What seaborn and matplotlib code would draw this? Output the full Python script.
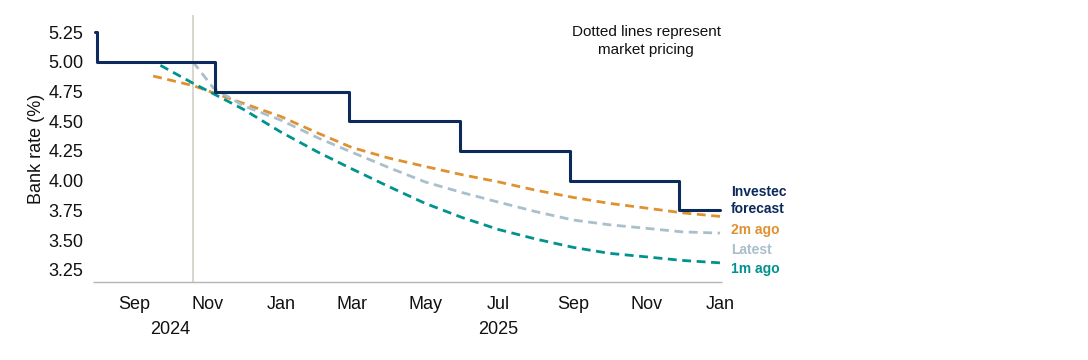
import pandas as pd
import numpy as np
import matplotlib
matplotlib.use("Agg")
import matplotlib.pyplot as plt
import matplotlib.dates as mdates
import matplotlib.transforms as mtransforms
import seaborn as sns

# ---------------- data ----------------
forecast_dates = ["2024-07-31", "2024-08-01", "2024-11-07", "2025-02-27",
                  "2025-05-30", "2025-08-29", "2025-11-28", "2026-01-01"]
forecast_vals = [5.25, 5.00, 4.75, 4.50, 4.25, 4.00, 3.75, 3.75]

m2_dates = ["2024-09-17", "2024-10-20", "2024-12-01", "2025-01-01", "2025-02-01",
            "2025-03-01", "2025-04-01", "2025-05-01", "2025-06-01", "2025-07-01",
            "2025-08-01", "2025-09-01", "2025-10-01", "2025-11-01", "2025-12-01",
            "2026-01-01"]
m2_vals = [4.88, 4.80, 4.65, 4.54, 4.40, 4.28, 4.19, 4.12, 4.05, 3.99,
           3.92, 3.86, 3.81, 3.77, 3.73, 3.70]

latest_dates = ["2024-10-20", "2024-11-06", "2024-12-01", "2025-01-01", "2025-02-01",
                "2025-03-01", "2025-04-01", "2025-05-01", "2025-06-01", "2025-07-01",
                "2025-08-01", "2025-09-01", "2025-10-01", "2025-11-01", "2025-12-01",
                "2026-01-01"]
latest_vals = [5.00, 4.78, 4.63, 4.51, 4.36, 4.24, 4.11, 3.99, 3.90, 3.82,
               3.74, 3.67, 3.63, 3.60, 3.57, 3.56]

m1_dates = ["2024-09-23", "2024-10-20", "2024-11-12", "2024-12-01", "2025-01-01",
            "2025-02-01", "2025-03-01", "2025-04-01", "2025-05-01", "2025-06-01",
            "2025-07-01", "2025-08-01", "2025-09-01", "2025-10-01", "2025-11-01",
            "2025-12-01", "2026-01-01"]
m1_vals = [4.97, 4.82, 4.70, 4.60, 4.41, 4.24, 4.10, 3.95, 3.81, 3.69,
           3.59, 3.51, 3.44, 3.39, 3.36, 3.33, 3.31]

vline_date = "2024-10-20"
y_ticks = [3.25, 3.50, 3.75, 4.00, 4.25, 4.50, 4.75, 5.00, 5.25]
series_labels = ["Investec\nforecast", "2m ago", "Latest", "1m ago"]
year_labels = ["2024", "2025"]
year_label_dates = ["2024-10-01", "2025-07-01"]

# ---------------- style ----------------
NAVY = "#0c2a5b"
ORANGE = "#e0912f"
GREY = "#a9bfcc"
TEAL = "#00928e"
AXIS = "#b5b5b5"

sns.set_theme(style="white")
plt.rcParams["font.family"] = ["Liberation Sans", "DejaVu Sans"]

fig = plt.figure(figsize=(10.88, 3.6), dpi=100)
W, H = 1088, 360
ax = fig.add_axes([93 / W, 1 - 282 / H, (722.4 - 93) / W, (282 - 15) / H])

def frame(d, v):
    return pd.DataFrame({"date": pd.to_datetime(d), "value": v})

dash = (0, (3.2, 2.0))
sns.lineplot(data=frame(m2_dates, m2_vals), x="date", y="value", ax=ax,
             color=ORANGE, lw=2.0, linestyle=dash, estimator=None)
sns.lineplot(data=frame(latest_dates, latest_vals), x="date", y="value", ax=ax,
             color=GREY, lw=2.0, linestyle=dash, estimator=None)
sns.lineplot(data=frame(m1_dates, m1_vals), x="date", y="value", ax=ax,
             color=TEAL, lw=2.0, linestyle=dash, estimator=None)
sns.lineplot(data=frame(forecast_dates, forecast_vals), x="date", y="value", ax=ax,
             color=NAVY, lw=2.2, drawstyle="steps-post", estimator=None)

ax.axvline(pd.Timestamp(vline_date), color="#d6d4c9", lw=1.3, zorder=0)

x0, x1 = pd.Timestamp("2024-07-29"), pd.Timestamp("2026-01-03")
ax.set_xlim(x0, x1)
ax.set_ylim(3.149, 5.393)
ax.set_yticks(y_ticks)
ax.set_yticklabels([f"{t:.2f}" for t in y_ticks])

ax.xaxis.set_major_locator(mdates.MonthLocator(bymonth=[1, 3, 5, 7, 9, 11]))
ax.xaxis.set_major_formatter(mdates.DateFormatter("%b"))

for s in ["left", "right", "top", "bottom"]:
    ax.spines[s].set_visible(False)
# x-axis baseline spanning exactly the plot area
ax.plot([0, 1], [0, 0], transform=ax.transAxes, color=AXIS, lw=1.0,
        clip_on=False, zorder=1, solid_capstyle="butt")

ax.tick_params(axis="y", length=0, pad=7, labelsize=13, labelcolor="#111111")
ax.tick_params(axis="x", length=4, width=0.8, color=AXIS, pad=6,
               labelsize=13, labelcolor="#111111", direction="out")
ax.set_xlabel("")
ax.set_ylabel("Bank rate (%)", fontsize=13, color="#111111", labelpad=2)

# year labels
trans_x = mtransforms.blended_transform_factory(ax.transData, ax.transAxes)
for lab, d in zip(year_labels, year_label_dates):
    ax.text(mdates.date2num(pd.Timestamp(d)), -48 / 267, lab, transform=trans_x,
            ha="center", va="center", fontsize=13, color="#111111")

# right-hand series labels
trans_r = mtransforms.blended_transform_factory(ax.transAxes, ax.transData)
xr = 1 + (731 - 722.4) / (722.4 - 93)
ax.text(xr, 3.835, series_labels[0], transform=trans_r, ha="left", va="center",
        fontsize=10, fontweight="bold", color=NAVY, linespacing=1.25)
ax.text(xr, 3.585, series_labels[1], transform=trans_r, ha="left", va="center",
        fontsize=10, fontweight="bold", color=ORANGE)
ax.text(xr, 3.42, series_labels[2], transform=trans_r, ha="left", va="center",
        fontsize=10, fontweight="bold", color=GREY)
ax.text(xr, 3.26, series_labels[3], transform=trans_r, ha="left", va="center",
        fontsize=10, fontweight="bold", color=TEAL)

# annotation
fig.text(646 / W, 1 - 41 / H, "Dotted lines represent\nmarket pricing",
         ha="center", va="center", fontsize=11, color="#111111", linespacing=1.35)

fig.savefig("out.png", dpi=100, facecolor="white")
